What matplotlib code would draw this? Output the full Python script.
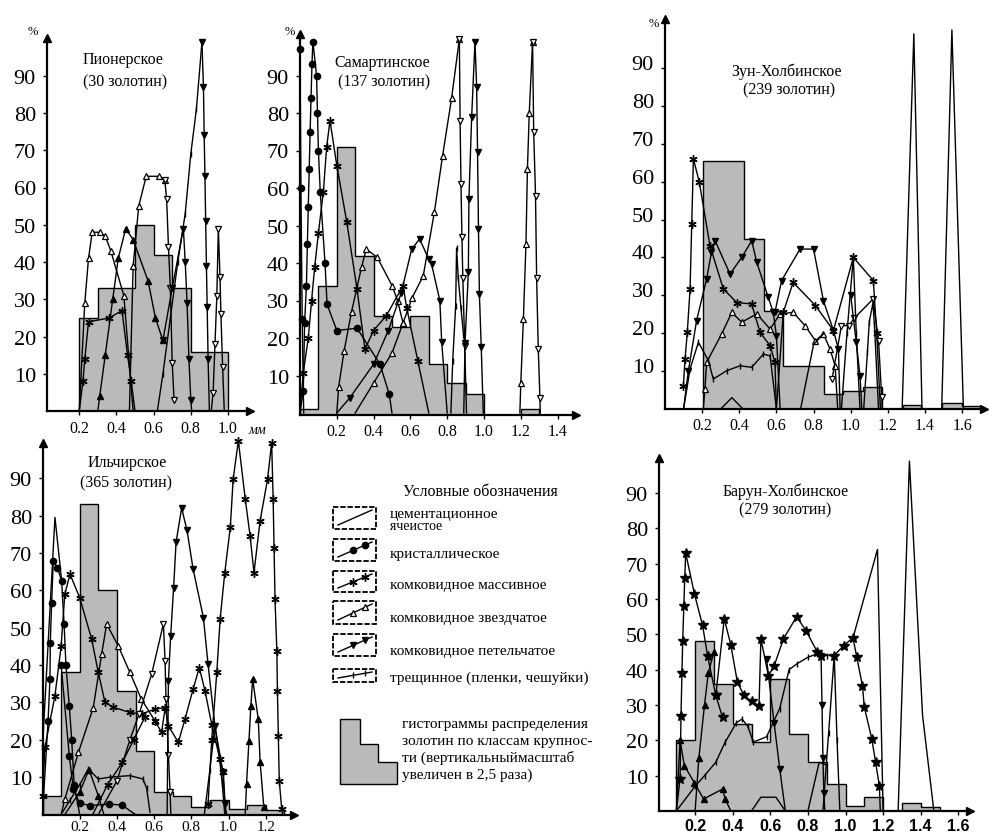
import matplotlib
matplotlib.use("Agg")
import matplotlib.pyplot as plt
import matplotlib.transforms as mtransforms
from matplotlib.patches import Rectangle, Polygon

# ---------------- data ----------------
# Пионерское
p1_edges = [0.2, 0.3, 0.5, 0.6, 0.7, 0.8, 1.0]
p1_hist = [25, 33, 50, 42, 33, 16]
p1_zvz1_x = [0.2, 0.23, 0.25, 0.27, 0.31, 0.34, 0.37, 0.44, 0.49]
p1_zvz1_y = [0, 29, 41, 48, 48, 47, 43, 31, 0]
p1_zvz2_x = [0.47, 0.49, 0.52, 0.56, 0.63, 0.66]
p1_zvz2_y = [0, 39, 55, 63, 63, 62]
p1_zvd_x = [0.66, 0.67, 0.68, 0.69, 0.70, 0.71]
p1_zvd_y = [62, 57, 44, 33, 13, 3]
p1_pet1_x = [0.3, 0.31, 0.34, 0.38, 0.41, 0.45, 0.49, 0.57, 0.61, 0.65]
p1_pet1_y = [0, 4, 15, 30, 41, 49, 46, 35, 25, 19]
p1_pet2_x = [0.65, 0.7, 0.76, 0.77, 0.78, 0.79, 0.8, 0.805]
p1_pet2_y = [19, 33, 49, 40, 29, 14, 3, 0]
p1_tre_x = [0.62, 0.65, 0.69, 0.73, 0.77, 0.8, 0.83, 0.86]
p1_tre_y = [0, 10, 25, 40, 53, 69, 81, 99]
p1_pet3_x = [0.86, 0.868, 0.872, 0.876, 0.88, 0.884, 0.888, 0.893, 0.9]
p1_pet3_y = [99, 87, 74, 63, 51, 39, 28, 14, 0]
p1_zvd2_x = [0.91, 0.92, 0.93, 0.94, 0.948, 0.957, 0.962, 0.971, 0.98]
p1_zvd2_y = [0, 5, 18, 31, 49, 36, 26, 12, 0]
p1_mas_x = [0.2, 0.22, 0.23, 0.25, 0.36, 0.43, 0.46, 0.48, 0.5]
p1_mas_y = [0, 8, 14, 24, 25, 27, 15, 8, 0]

# Самартинское
p2_edges = [0, 0.1, 0.2, 0.3, 0.4, 0.5, 0.6, 0.7, 0.8, 0.9, 1.0]
p2_hist = [1, 34, 71, 42, 26, 23, 26, 13, 8, 5]
p2_edges2 = [1.2, 1.3]
p2_hist2 = [1]
p2_cry1_x = [0.0, 0.018, 0.025, 0.035, 0.04, 0.045, 0.05, 0.055, 0.06, 0.065, 0.07,
             0.09, 0.095, 0.1, 0.11, 0.136, 0.147, 0.2, 0.31, 0.435, 0.485, 0.5]
p2_cry1_y = [0, 6, 24, 34, 45, 55, 65, 75, 84, 93, 99,
             90, 80, 70, 59, 40, 29, 22, 22.6, 13, 5, 0]
p2_cry2_x = [0.0, 0.005, 0.012, 0.02]
p2_cry2_y = [97, 60, 25, 0]
p2_mas_x = [0.0, 0.018, 0.045, 0.063, 0.08, 0.1, 0.127, 0.145, 0.163, 0.2, 0.254,
            0.31, 0.353, 0.4, 0.47, 0.56, 0.58, 0.64, 0.7]
p2_mas_y = [0, 10.8, 20, 30, 39, 48, 59, 71, 78, 66, 51, 33, 17, 22, 26, 34, 28, 14, 0]
p2_zvz1_x = [0.2, 0.21, 0.24, 0.28, 0.335, 0.36, 0.42, 0.5, 0.53, 0.56]
p2_zvz1_y = [0, 7, 16.6, 27, 39, 43.7, 41.5, 34, 30, 24]
p2_zvz2_x = [0.3, 0.4, 0.5, 0.56, 0.61, 0.67, 0.73, 0.775, 0.824, 0.866]
p2_zvz2_y = [0, 8, 16, 24, 30.8, 36.6, 53.5, 68.6, 84, 99.7]
p2_zvd_x = [0.866, 0.87, 0.875, 0.88, 0.885, 0.895, 0.905]
p2_zvd_y = [99.7, 78, 61, 47, 36, 18, 0]
p2_pet_x = [0.2, 0.27, 0.4, 0.48, 0.55, 0.607, 0.65, 0.7, 0.715, 0.76, 0.77, 0.8]
p2_pet_y = [0, 4, 13, 22, 32, 43.7, 46.4, 41, 39.7, 30, 19, 0]
p2_tre_x = [0.82, 0.83, 0.846, 0.851, 0.86, 0.875, 0.89]
p2_tre_y = [0, 14, 28.6, 44, 36, 28, 20]
p2_pet2_x = [0.89, 0.897, 0.915, 0.918, 0.933, 0.951, 0.96, 0.965, 0.97, 0.975, 0.985, 0.996]
p2_pet2_y = [0, 18.8, 37.5, 57, 79, 99, 87, 69.5, 49, 31.7, 17.5, 0]
p2_zvz3_x = [1.195, 1.2, 1.214, 1.228, 1.236, 1.246, 1.264]
p2_zvz3_y = [0, 8, 25, 45, 65, 80, 99]
p2_zvd2_x = [1.264, 1.27, 1.28, 1.286, 1.295, 1.304, 1.306]
p2_zvd2_y = [99, 75, 58, 36, 17, 4, 0]

# Зун-Холбинское
p3_edges = [0.206, 0.425, 0.533, 0.637, 0.856, 0.957, 1.068, 1.167]
p3_hist = [65.5, 44.9, 25.9, 11.4, 4, 4.8, 5.7]
p3_edges2 = [1.28, 1.38]
p3_hist2 = [1]
p3_edges3 = [1.49, 1.6, 1.7]
p3_hist3 = [1.6, 0.9]
p3_mas1_x = [0.099, 0.108, 0.12, 0.135, 0.144, 0.153, 0.185, 0.242, 0.314, 0.386,
             0.467, 0.512, 0.566, 0.592, 0.6]
p3_mas1_y = [6.2, 13.2, 20.2, 31.7, 48.8, 66, 59.8, 43.1, 31.7, 28.1, 27.7, 20.2, 16.7, 12.3, 0]
p3_pet1_x = [0.1, 0.126, 0.17, 0.224, 0.25, 0.27, 0.35, 0.413, 0.467, 0.494, 0.556, 0.583, 0.6, 0.62]
p3_pet1_y = [0, 10.1, 23.3, 34.3, 41.3, 44.4, 35.6, 40, 44.4, 38.7, 29.5, 25.5, 19.3, 0]
p3_zvz1_x = [0.206, 0.215, 0.224, 0.305, 0.36, 0.413, 0.494, 0.566, 0.62, 0.69, 0.754,
             0.81, 0.853, 0.889, 0.916, 0.93]
p3_zvz1_y = [0, 5.3, 12.3, 19.8, 25.5, 22.9, 25.1, 21.1, 25.1, 25.5, 22, 18, 19.8, 15.8, 11.4, 0]
p3_zvd_x = [0.9, 0.95, 0.99, 1.02, 1.12, 1.15, 1.167, 1.17]
p3_zvd_y = [8, 22, 22, 24, 29, 18, 3.1, 0]
p3_pet2_x = [0.592, 0.628, 0.727, 0.8, 0.853, 0.907, 0.934, 0.943]
p3_pet2_y = [25.5, 33.9, 42.2, 42.2, 28.6, 20.7, 15.8, 0]
p3_mas2_x = [0.6, 0.637, 0.69, 0.81, 0.907, 1.014, 1.122, 1.14, 1.16]
p3_mas2_y = [0, 25.5, 33.4, 27.3, 20.7, 40, 33.9, 20, 0]
p3_tre1_x = [0.95, 0.98, 1.014, 1.03, 1.05]
p3_tre1_y = [0, 20, 40, 20, 0]
p3_pet3_x = [1.0, 1.03, 1.05, 1.06]
p3_pet3_y = [30, 17.6, 8.8, 0]
p3_tre2_x = [1.07, 1.09, 1.1, 1.12, 1.13, 1.15]
p3_tre2_y = [0, 15, 23, 28, 20, 0]
p3_tre3_x = [0.1, 0.135, 0.18, 0.233, 0.26, 0.332, 0.404, 0.467, 0.53, 0.566, 0.6]
p3_tre3_y = [0, 10.6, 17.6, 12.8, 7.9, 10.1, 11.4, 11, 14.5, 14, 0]
p3_bump_x = [0.3, 0.36, 0.42]
p3_bump_y = [0, 3, 0]
p3_cem1_x = [0.73, 0.8, 0.853]
p3_cem1_y = [0, 17, 19.8]
p3_cem2_x = [1.277, 1.34, 1.384]
p3_cem2_y = [0, 99, 0]
p3_cem3_x = [1.49, 1.545, 1.607]
p3_cem3_y = [0, 100, 0]

# Ильчирское
p4_edges = [0, 0.1, 0.2, 0.3, 0.4, 0.5, 0.6, 0.7, 0.8, 0.9, 1.0, 1.1, 1.2, 1.3]
p4_hist = [5, 38, 83, 60, 33, 17, 6, 5, 2, 4, 1.5, 2.5, 1.2]
p4_cry1_x = [0.0, 0.03, 0.04, 0.042, 0.049, 0.058, 0.08, 0.103, 0.116, 0.126, 0.144, 0.157, 0.17, 0.2]
p4_cry1_y = [0, 25, 36.2, 46, 56.7, 67.9, 66, 62.5, 51, 40, 29, 20, 8, 0]
p4_cry2_x = [0.1, 0.144, 0.166, 0.2, 0.256, 0.36, 0.43, 0.47, 0.5]
p4_cry2_y = [40, 15.7, 6.8, 3, 2.4, 2.8, 2.5, 1, 0]
p4_cem_x = [0.0, 0.067, 0.103]
p4_cem_y = [18, 79.5, 62.5]
p4_mas1_x = [0.0, 0.013, 0.067, 0.1, 0.12, 0.148, 0.2, 0.264, 0.3, 0.336, 0.38, 0.47, 0.533, 0.605, 0.66]
p4_mas1_y = [5, 18, 31.8, 45, 59, 64.3, 58, 47, 38, 30, 28.7, 27.3, 26.9, 28.2, 28.6]
p4_zvz1_x = [0.1, 0.12, 0.193, 0.273, 0.318, 0.345, 0.408, 0.47, 0.53, 0.605]
p4_zvz1_y = [0, 4.1, 16.6, 28.6, 42.9, 51, 45, 38, 31, 25]
p4_zvz2_x = [0.3, 0.4, 0.47, 0.52, 0.587, 0.65, 0.659, 0.664, 0.677, 0.686, 0.69]
p4_zvz2_y = [0, 9, 20, 27, 37.6, 51, 41, 31, 16, 6, 0]
p4_mas2_x = [0.605, 0.64, 0.66, 0.677, 0.73, 0.766, 0.81, 0.843, 0.874, 0.91, 0.954, 0.972, 0.985]
p4_mas2_y = [25, 22, 28.6, 23.7, 19.3, 25.5, 33.6, 39.3, 33, 24, 14.8, 11.3, 0]
p4_pet1_x = [0.67, 0.677, 0.689, 0.705, 0.718, 0.748, 0.777, 0.81, 0.865, 0.89, 0.927, 0.97, 0.98, 0.99]
p4_pet1_y = [0, 35.8, 47.8, 60.7, 72.8, 82, 76, 65.6, 52.7, 40.2, 23.7, 11.3, 2.8, 0]
p4_mas3_x = [0.89, 0.91, 0.937, 0.955, 0.98, 1.01, 1.025, 1.053, 1.09, 1.116, 1.137, 1.17, 1.21,
             1.232, 1.24, 1.245, 1.25, 1.26, 1.263, 1.268, 1.273, 1.286]
p4_mas3_y = [2.8, 20, 38, 52.3, 64.7, 77, 89.7, 100, 84.4, 74.6, 64.7, 78.6, 89.7,
             99.5, 84.4, 71.4, 57.6, 43.8, 33, 21, 9, 1.5]
p4_tre1_x = [0.87, 0.9, 0.927, 0.95, 0.965, 0.98]
p4_tre1_y = [0, 12, 23.7, 15.7, 9, 0]
p4_pet2_x = [1.09, 1.097, 1.11, 1.12, 1.13, 1.16, 1.17, 1.19]
p4_pet2_y = [0, 8.2, 19.7, 29, 36.2, 25.5, 14, 1.9]
p4_tre2_x = [0.1, 0.15, 0.2, 0.246, 0.3, 0.363, 0.47, 0.54, 0.56, 0.578]
p4_tre2_y = [0, 4, 8, 12.2, 9.5, 10, 10.4, 9.5, 7, 0.6]
p4_pet3_x = [0.12, 0.2, 0.25, 0.3, 0.33]
p4_pet3_y = [0, 6, 12, 5, 0]
p4_mas4_x = [0.27, 0.35, 0.43, 0.49, 0.55]
p4_mas4_y = [0, 8, 14, 20, 26]

# Барун-Холбинское
p5_edges = [0.1, 0.2, 0.3, 0.4, 0.5, 0.6, 0.7, 0.8, 0.9, 1.0, 1.1, 1.2]
p5_hist = [20, 48, 36, 24.5, 19.5, 37.4, 21.8, 13.8, 7.6, 1.3, 3.9]
p5_edges2 = [1.3, 1.4, 1.5]
p5_hist2 = [2.2, 1]
p5_mas1_x = [0.1, 0.12, 0.125, 0.13, 0.134, 0.14, 0.145, 0.15, 0.196, 0.24, 0.266, 0.31, 0.346]
p5_mas1_y = [0, 9, 27, 39, 48, 58, 66, 73, 61.5, 52.5, 44, 32.7, 26.5]
p5_mas2_x = [0.31, 0.355, 0.39, 0.425, 0.46, 0.5, 0.54, 0.55, 0.59, 0.62, 0.67, 0.74, 0.79, 0.85, 0.87]
p5_mas2_y = [32.7, 54.4, 47, 36.4, 32.7, 31, 29.8, 48.7, 38.3, 41, 48.7, 55, 51, 45, 44]
p5_pet1_x = [0.87, 0.875, 0.88, 0.885, 0.89]
p5_pet1_y = [44, 30, 15, 5, 0]
p5_tre1_x = [0.1, 0.2, 0.25, 0.31, 0.36, 0.42, 0.45, 0.48, 0.51, 0.58, 0.65, 0.7, 0.74, 0.8, 0.85, 0.9, 0.94]
p5_tre1_y = [0, 7, 10, 13.8, 19.5, 25, 26, 24, 19.5, 21, 29, 40, 41.6, 43.5, 44.5, 44, 44]
p5_mas3_x = [0.94, 0.99, 1.04, 1.06, 1.09, 1.1, 1.14, 1.16, 1.18, 1.185]
p5_mas3_y = [44, 46.8, 49, 43.5, 35.5, 29.4, 20.4, 13.8, 7.2, 0]
p5_cem1_x = [1.04, 1.17, 1.2]
p5_cem1_y = [49, 74, 0]
p5_pet2_x = [0.1, 0.12, 0.143, 0.196, 0.245, 0.346, 0.36, 0.39]
p5_pet2_y = [0, 20, 12.8, 8, 3.4, 6.2, 3.4, 0]
p5_cem2_x = [0.5, 0.55, 0.63, 0.68]
p5_cem2_y = [0, 3.9, 3.9, 0]
p5_cem3_x = [1.28, 1.34, 1.41, 1.47]
p5_cem3_y = [0, 99, 27, 0]
p5_tre2_x = [0.88, 0.91, 0.94, 0.955, 0.97]
p5_tre2_y = [0, 22, 44, 20, 0]
p5_pet3_x = [0.2, 0.22, 0.25, 0.27, 0.3]
p5_pet3_y = [0, 15, 30, 39, 45]
p5_pet4_x = [0.58, 0.62, 0.65, 0.68]
p5_pet4_y = [43, 25, 12, 0]
p5_cem4_x = [0.8, 0.86, 0.9]
p5_cem4_y = [0, 13.8, 13]

yticks = [10, 20, 30, 40, 50, 60, 70, 80, 90]
p1_xticks = [0.2, 0.4, 0.6, 0.8, 1.0]
p2_xticks = [0.2, 0.4, 0.6, 0.8, 1.0, 1.2, 1.4]
p3_xticks = [0.2, 0.4, 0.6, 0.8, 1.0, 1.2, 1.4, 1.6]
p4_xticks = [0.2, 0.4, 0.6, 0.8, 1.0, 1.2]
p5_xticks = [0.2, 0.4, 0.6, 0.8, 1.0, 1.2, 1.4, 1.6]

legend_kinds = ["cem", "cry", "mas", "zvz", "pet", "tre"]
legend_labels = ["цементационное", "кристаллическое", "комковидное массивное",
                 "комковидное звездчатое", "комковидное петельчатое",
                 "трещинное (пленки, чешуйки)"]
hist_legend = ["гистограммы распределения", "золотин по классам крупнос-",
               "ти (вертикальныймасштаб", "увеличен в 2,5 раза)"]

# ---------------- styling ----------------
plt.rcParams["font.family"] = ["Liberation Serif", "DejaVu Serif"]
W, H = 994, 837
fig = plt.figure(figsize=(W / 100, H / 100), dpi=100)
HIST_C = "#bababa"

STY = {
    "cem": dict(marker=None),
    "cry": dict(marker="o", ms=4.5, mfc="k", mec="k"),
    "mas": dict(marker=(6, 2, 0), ms=6, mew=1.0, mec="k"),
    "mstar": dict(marker="*", ms=7, mfc="k", mec="k"),
    "zvz": dict(marker="^", ms=5, mfc="white", mec="k", mew=0.9),
    "zvd": dict(marker="v", ms=5, mfc="white", mec="k", mew=0.9),
    "pet": dict(marker="v", ms=5, mfc="k", mec="k"),
    "peu": dict(marker="^", ms=5, mfc="k", mec="k"),
    "tre": dict(marker="|", ms=5, mew=1.0, mec="k"),
}


def px_axes(x0, x1, ytop, ybot):
    return fig.add_axes([x0 / W, 1 - ybot / H, (x1 - x0) / W, (ybot - ytop) / H])


def ftext(x, y, s, **kw):
    fig.text(x / W, 1 - y / H, s, **kw)


def panel(ox, kx, oy, ky, xlim, ylim, xticks, xfont=None, xpad=3):
    ax = px_axes(ox + kx * xlim[0], ox + kx * xlim[1], oy - ky * ylim[1], oy - ky * ylim[0])
    ax.set_xlim(xlim)
    ax.set_ylim(ylim)
    ax.patch.set_alpha(0)
    for s in ("top", "right"):
        ax.spines[s].set_visible(False)
    for s in ("left", "bottom"):
        ax.spines[s].set_linewidth(1.6)
    ax.set_yticks(yticks)
    ax.set_yticklabels([str(v) for v in yticks], fontsize=16)
    ax.set_xticks(xticks)
    ax.set_xticklabels([f"{v:.1f}" for v in xticks], fontsize=11.5,
                       **(xfont or {}))
    ax.tick_params(axis="y", length=3, width=1, pad=5)
    ax.tick_params(axis="x", length=3, width=1, pad=xpad)
    ax.plot(0, 1, marker="^", color="k", ms=6, transform=ax.transAxes, clip_on=False)
    ax.plot(1, 0, marker=">", color="k", ms=6, transform=ax.transAxes, clip_on=False)
    return ax


def hist(ax, edges, h):
    ax.stairs(h, edges, baseline=ax.get_ylim()[0], fill=True, facecolor=HIST_C,
              edgecolor="k", lw=1.0, zorder=1)


def series(ax, kind, xs, ys):
    mk = [y > 1.0 for y in ys]
    ax.plot(xs, ys, color="k", lw=1.0, markevery=mk, zorder=3, clip_on=False, **STY[kind])


# ---------------- panel 1 ----------------
ax1 = panel(42, 186, 412.3, 3.73, (0.027, 1.12), (0, 100), p1_xticks)
hist(ax1, p1_edges, p1_hist)
for k, xs, ys in [("zvz", p1_zvz1_x, p1_zvz1_y), ("zvz", p1_zvz2_x, p1_zvz2_y),
                  ("zvd", p1_zvd_x, p1_zvd_y), ("peu", p1_pet1_x, p1_pet1_y),
                  ("pet", p1_pet2_x, p1_pet2_y), ("tre", p1_tre_x, p1_tre_y),
                  ("pet", p1_pet3_x, p1_pet3_y), ("zvd", p1_zvd2_x, p1_zvd2_y),
                  ("mas", p1_mas_x, p1_mas_y)]:
    series(ax1, k, xs, ys)
ftext(123, 60, "Пионерское", fontsize=11.5, ha="center", va="center")
ftext(125, 82, "(30 золотин)", fontsize=11.5, ha="center", va="center")
ftext(33, 32, "%", fontsize=9, ha="center", va="center")
ftext(257, 431, "мм", fontsize=10, ha="center", va="center", style="italic")

# ---------------- panel 2 ----------------
ax2 = panel(300, 184, 414, 3.75, (0, 1.5), (-0.4, 101), p2_xticks)
hist(ax2, p2_edges, p2_hist)
hist(ax2, p2_edges2, p2_hist2)
for k, xs, ys in [("cry", p2_cry1_x, p2_cry1_y), ("cry", p2_cry2_x, p2_cry2_y),
                  ("mas", p2_mas_x, p2_mas_y), ("zvz", p2_zvz1_x, p2_zvz1_y),
                  ("zvz", p2_zvz2_x, p2_zvz2_y), ("zvd", p2_zvd_x, p2_zvd_y),
                  ("pet", p2_pet_x, p2_pet_y), ("tre", p2_tre_x, p2_tre_y),
                  ("pet", p2_pet2_x, p2_pet2_y), ("zvz", p2_zvz3_x, p2_zvz3_y),
                  ("zvd", p2_zvd2_x, p2_zvd2_y)]:
    series(ax2, k, xs, ys)
ftext(382, 63, "Самартинское", fontsize=11.5, ha="center", va="center")
ftext(384, 82, "(137 золотин)", fontsize=11.5, ha="center", va="center")
ftext(290, 32, "%", fontsize=9, ha="center", va="center")

# ---------------- panel 3 ----------------
ax3 = panel(665, 185.7, 410, 3.79, (0, 1.72), (0, 103), p3_xticks)
shift = mtransforms.ScaledTranslation(0, 0.06, fig.dpi_scale_trans)
for lab in ax3.get_yticklabels():
    lab.set_transform(lab.get_transform() + shift)
hist(ax3, p3_edges, p3_hist)
hist(ax3, p3_edges2, p3_hist2)
hist(ax3, p3_edges3, p3_hist3)
for k, xs, ys in [("mas", p3_mas1_x, p3_mas1_y), ("pet", p3_pet1_x, p3_pet1_y),
                  ("zvz", p3_zvz1_x, p3_zvz1_y), ("zvd", p3_zvd_x, p3_zvd_y),
                  ("pet", p3_pet2_x, p3_pet2_y), ("mas", p3_mas2_x, p3_mas2_y),
                  ("tre", p3_tre1_x, p3_tre1_y), ("pet", p3_pet3_x, p3_pet3_y),
                  ("tre", p3_tre2_x, p3_tre2_y), ("tre", p3_tre3_x, p3_tre3_y),
                  ("cem", p3_bump_x, p3_bump_y), ("cem", p3_cem1_x, p3_cem1_y),
                  ("cem", p3_cem2_x, p3_cem2_y), ("cem", p3_cem3_x, p3_cem3_y)]:
    series(ax3, k, xs, ys)
ftext(787, 72, "Зун-Холбинское", fontsize=11.5, ha="center", va="center")
ftext(789, 90, "(239 золотин)", fontsize=11.5, ha="center", va="center")
ftext(654, 24, "%", fontsize=9, ha="center", va="center")

# ---------------- panel 4 ----------------
ax4 = panel(42.5, 186, 815.5, 3.7375, (0.003, 1.35), (0, 99.5), p4_xticks, xpad=1)
for lab in ax4.get_xticklabels():
    lab.set_fontsize(11)
hist(ax4, p4_edges, p4_hist)
for k, xs, ys in [("cry", p4_cry1_x, p4_cry1_y), ("cry", p4_cry2_x, p4_cry2_y),
                  ("cem", p4_cem_x, p4_cem_y), ("mas", p4_mas1_x, p4_mas1_y),
                  ("zvz", p4_zvz1_x, p4_zvz1_y), ("zvd", p4_zvz2_x, p4_zvz2_y),
                  ("mas", p4_mas2_x, p4_mas2_y), ("pet", p4_pet1_x, p4_pet1_y),
                  ("mas", p4_mas3_x, p4_mas3_y), ("tre", p4_tre1_x, p4_tre1_y),
                  ("peu", p4_pet2_x, p4_pet2_y), ("tre", p4_tre2_x, p4_tre2_y),
                  ("peu", p4_pet3_x, p4_pet3_y), ("mas", p4_mas4_x, p4_mas4_y)]:
    series(ax4, k, xs, ys)
ftext(127, 463, "Ильчирское", fontsize=11.5, ha="center", va="center")
ftext(126, 483, "(365 золотин)", fontsize=11.5, ha="center", va="center")

# ---------------- panel 5 ----------------
ax5 = panel(657.5, 188, 812, 3.534, (0.008, 1.66), (0, 100), p5_xticks,
            xfont=dict(family="Liberation Sans", fontweight="bold"), xpad=2)
hist(ax5, p5_edges, p5_hist)
hist(ax5, p5_edges2, p5_hist2)
for k, xs, ys in [("mstar", p5_mas1_x, p5_mas1_y), ("mstar", p5_mas2_x, p5_mas2_y),
                  ("pet", p5_pet1_x, p5_pet1_y), ("tre", p5_tre1_x, p5_tre1_y),
                  ("mstar", p5_mas3_x, p5_mas3_y), ("cem", p5_cem1_x, p5_cem1_y),
                  ("peu", p5_pet2_x, p5_pet2_y), ("cem", p5_cem2_x, p5_cem2_y),
                  ("cem", p5_cem3_x, p5_cem3_y), ("tre", p5_tre2_x, p5_tre2_y),
                  ("peu", p5_pet3_x, p5_pet3_y), ("pet", p5_pet4_x, p5_pet4_y),
                  ("cem", p5_cem4_x, p5_cem4_y)]:
    series(ax5, k, xs, ys)
ftext(786, 492, "Барун-Холбинское", fontsize=11.5, ha="center", va="center")
ftext(785, 510, "(279 золотин)", fontsize=11.5, ha="center", va="center")

# ---------------- legend ----------------
lg = px_axes(320, 600, 470, 800)
lg.set_xlim(320, 600)
lg.set_ylim(800, 470)
lg.axis("off")
lg.text(480, 492, "Условные обозначения", fontsize=11.5, ha="center", va="center")
boxes = [(508, 530), (540, 562), (572, 593), (602, 625), (635, 657), (670, 683)]
for (yt, yb), kind in zip(boxes, legend_kinds):
    lg.add_patch(Rectangle((333, yt), 43, yb - yt, fill=False, ec="k", lw=1.3, ls=(0, (3, 1))))
    x0, y0, x1, y1 = 338, yb - 4, 372, yt + 3
    st = dict(STY[kind])
    lg.plot([x0, x1], [y0, y1], color="k", lw=1.0)
    if st.get("marker"):
        lg.plot([x0 + 0.45 * (x1 - x0), x0 + 0.8 * (x1 - x0)],
                [y0 + 0.45 * (y1 - y0), y0 + 0.8 * (y1 - y0)], ls="none", color="k", **st)
text_y = [515, 555, 586, 619, 652, 678]
for y, lab in zip(text_y, legend_labels):
    lg.text(390, y, lab, fontsize=11, ha="left", va="center")
lg.text(390, 527, "ячеистое", fontsize=10, ha="left", va="center")
lg.add_patch(Polygon([(340, 720), (360, 720), (360, 745), (378, 745), (378, 763),
                      (397, 763), (397, 785), (340, 785)], closed=True,
                     facecolor=HIST_C, edgecolor="k", lw=1.0))
for y, lab in zip([725, 742, 758, 775], hist_legend):
    lg.text(402, y, lab, fontsize=11, ha="left", va="center")

fig.savefig("out.png", dpi=100)
